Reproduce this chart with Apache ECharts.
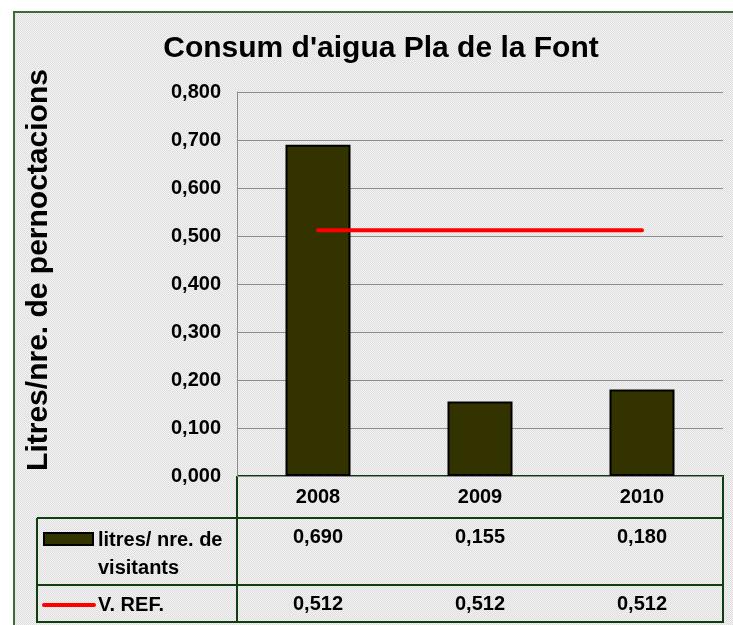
<!DOCTYPE html>
<html>
<head>
<meta charset="utf-8">
<script src="https://cdn.jsdelivr.net/npm/echarts@6/dist/echarts.min.js"></script>
<style>
  html, body { margin: 0; padding: 0; background: #fff; }
  #chart { width: 733px; height: 625px; }
</style>
</head>
<body>
<div id="chart"></div>
<script>
// chart data
const years = ['2008', '2009', '2010'];
const usage = [0.690, 0.155, 0.180];
const refValue = [0.512, 0.512, 0.512];
const seriesNames = ['litres/ nre. de\nvisitants', 'V. REF.'];

const FONT = 'Liberation Sans, Arial, sans-serif';
const TABLE_GREEN = '#0f3f0f';

// comma decimal, three places
const fmt = (v) => v.toFixed(3).replace('.', ',');

// dotted grey fill like the excel chart area
function dotPattern() {
  const c = document.createElement('canvas');
  c.width = 2;
  c.height = 2;
  const ctx = c.getContext('2d');
  ctx.fillStyle = '#f3f3f3';
  ctx.fillRect(0, 0, 2, 2);
  ctx.fillStyle = '#dedede';
  ctx.fillRect(0, 0, 1, 1);
  ctx.fillRect(1, 1, 1, 1);
  return c;
}

const chart = echarts.init(document.getElementById('chart'), null, { renderer: 'canvas' });

const hLine = (x1, x2, y, color, w) => ({
  type: 'line', silent: true,
  shape: { x1: x1, y1: y, x2: x2, y2: y },
  style: { stroke: color, lineWidth: w }
});
const vLine = (x, y1, y2, color, w) => ({
  type: 'line', silent: true,
  shape: { x1: x, y1: y1, x2: x, y2: y2 },
  style: { stroke: color, lineWidth: w }
});

const cellLabel = {
  fontFamily: FONT, fontSize: 20, fontWeight: 'bold', color: '#000'
};

chart.setOption({
  backgroundColor: { image: dotPattern(), repeat: 'repeat' },
  animation: false,
  graphic: [
    // white strips outside the chart frame
    { type: 'rect', silent: true, shape: { x: 0, y: 0, width: 733, height: 11 }, style: { fill: '#fff' } },
    { type: 'rect', silent: true, shape: { x: 0, y: 0, width: 13, height: 625 }, style: { fill: '#fff' } },
    hLine(13, 733, 12, '#3e6b36', 2),
    vLine(14, 11, 625, '#3e6b36', 2),
    // chart title
    {
      type: 'text', silent: true,
      x: 381, y: 49,
      style: {
        text: "Consum d'aigua Pla de la Font",
        font: 'bold 30px ' + FONT, fill: '#000',
        align: 'center', verticalAlign: 'middle'
      }
    },
    // y axis title
    {
      type: 'text', silent: true,
      x: 39, y: 270, rotation: Math.PI / 2,
      style: {
        text: 'Litres/nre. de pernoctacions',
        font: 'bold 30px ' + FONT, fill: '#000',
        align: 'center', verticalAlign: 'middle'
      }
    },
    // data table borders
    hLine(237, 724, 476, TABLE_GREEN, 2),
    hLine(37, 724, 518, TABLE_GREEN, 2),
    hLine(37, 724, 585, TABLE_GREEN, 2),
    hLine(37, 724, 622, TABLE_GREEN, 2),
    vLine(37, 518, 623, TABLE_GREEN, 2),
    vLine(237, 476, 623, TABLE_GREEN, 2),
    vLine(723, 476, 623, TABLE_GREEN, 2),
    // legend keys in the table
    {
      type: 'rect', silent: true,
      shape: { x: 44, y: 533, width: 49, height: 12 },
      style: { fill: '#333300', stroke: '#000', lineWidth: 2 }
    },
    {
      type: 'line', silent: true,
      shape: { x1: 44, y1: 605, x2: 94, y2: 605 },
      style: { stroke: '#ff0000', lineWidth: 4, lineCap: 'round' }
    },
    {
      type: 'text', silent: true, x: 98, y: 526,
      style: { text: seriesNames[0], font: 'bold 20px ' + FONT, fill: '#000', lineHeight: 28 }
    },
    {
      type: 'text', silent: true, x: 98, y: 595,
      style: { text: seriesNames[1], font: 'bold 20px ' + FONT, fill: '#000' }
    }
  ],
  grid: { left: 237, top: 92, width: 486, height: 384, containLabel: false },
  xAxis: [
    {
      type: 'category',
      data: years,
      axisLine: { show: false },
      axisTick: { show: false },
      axisLabel: Object.assign({ margin: 11 }, cellLabel)
    },
    {
      type: 'category',
      data: years,
      position: 'bottom',
      axisLine: { show: false },
      axisTick: { show: false },
      axisLabel: Object.assign({ margin: 51, formatter: (v, i) => fmt(usage[i]) }, cellLabel)
    },
    {
      type: 'category',
      data: years,
      position: 'bottom',
      axisLine: { show: false },
      axisTick: { show: false },
      axisLabel: Object.assign({ margin: 118, formatter: (v, i) => fmt(refValue[i]) }, cellLabel)
    }
  ],
  yAxis: {
    type: 'value',
    min: 0,
    max: 0.8,
    interval: 0.1,
    axisLine: { show: true, lineStyle: { color: '#8c8c8c', width: 1 } },
    axisTick: { show: false },
    splitLine: { lineStyle: { color: '#8c8c8c', width: 1 } },
    axisLabel: Object.assign({ margin: 16, formatter: (v) => fmt(v) }, cellLabel)
  },
  series: [
    {
      name: seriesNames[0],
      type: 'bar',
      data: usage,
      barWidth: 65,
      itemStyle: { color: '#333300', borderColor: '#000', borderWidth: 2 },
      z: 3
    },
    {
      name: seriesNames[1],
      type: 'line',
      data: refValue,
      symbol: 'none',
      lineStyle: { color: '#ff0000', width: 4, cap: 'round' },
      z: 4
    }
  ]
});
</script>
</body>
</html>
